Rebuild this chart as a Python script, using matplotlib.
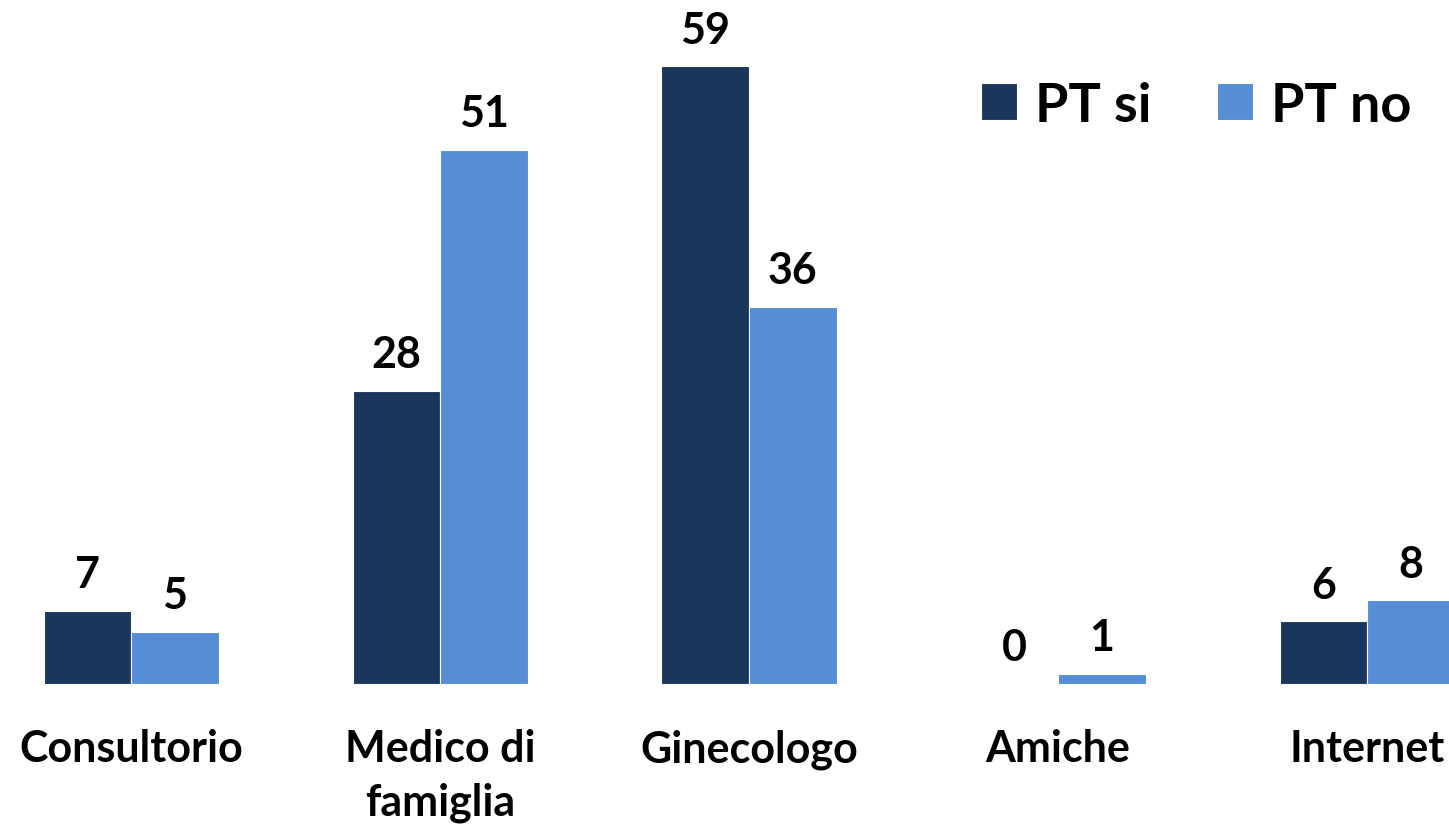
import matplotlib
matplotlib.use("Agg")
import matplotlib.pyplot as plt
import numpy as np

categories = ["Consultorio", "Medico di\nfamiglia", "Ginecologo", "Amiche", "Internet"]
pt_si = [7, 28, 59, 0, 6]
pt_no = [5, 51, 36, 1, 8]
series_names = ["PT si", "PT no"]
colors = ["#1B365D", "#558ED5"]

plt.rcParams['font.family'] = ['Lato', 'DejaVu Sans']
plt.rcParams['font.weight'] = 'bold'

W, H = 1449, 828
fig = plt.figure(figsize=(W/100, H/100), dpi=100)
base_px = 685
ax = fig.add_axes([0, (H - base_px)/H, 1, base_px/H])
ppu = 10.47
ax.set_ylim(0, base_px/ppu)
sp = 309.0
c0 = 131.0
ax.set_xlim(-c0/sp, (W - c0)/sp)

x = np.arange(len(categories))
w = 87.5/sp
b1 = ax.bar(x - w/2, pt_si, w, color=colors[0], edgecolor='white', linewidth=0.8, label=series_names[0])
b2 = ax.bar(x + w/2, pt_no, w, color=colors[1], edgecolor='white', linewidth=0.8, label=series_names[1])
for bars in (b1, b2):
    ax.bar_label(bars, padding=12, fontsize=31, fontweight='bold', color='black')

ax.set_xticks(x)
ax.set_xticklabels(categories, fontsize=31, fontweight='bold', linespacing=1.4)
ax.tick_params(axis='x', length=0, pad=32)
ax.set_yticks([])
for s in ax.spines.values():
    s.set_visible(False)

leg = ax.legend(ncol=2, loc='center left', bbox_to_anchor=(981/W, 1 - 106/H),
                bbox_transform=fig.transFigure, frameon=False, fontsize=39,
                handlelength=0.67, handleheight=0.67, handletextpad=0.33,
                columnspacing=1.2, borderpad=0, borderaxespad=0)
for t in leg.get_texts():
    t.set_fontweight('bold')

fig.savefig("out.png", dpi=100)
